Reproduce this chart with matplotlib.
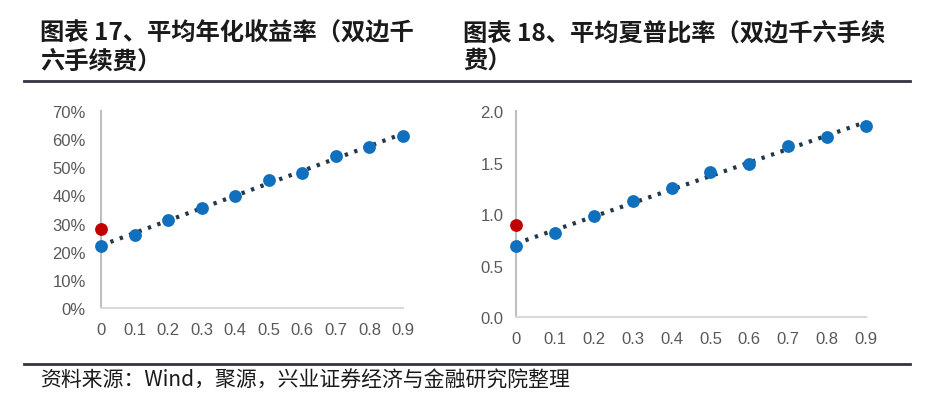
import matplotlib.pyplot as plt
import numpy as np
from matplotlib.lines import Line2D
from matplotlib.ticker import FuncFormatter

plt.rcParams['font.family'] = ['Liberation Sans', 'DejaVu Sans']

# data
cost = [0, 0.1, 0.2, 0.3, 0.4, 0.5, 0.6, 0.7, 0.8, 0.9]
ret = [0.22, 0.261, 0.314, 0.355, 0.398, 0.455, 0.481, 0.541, 0.573, 0.612]
ret_red = 0.279
sharpe = [0.69, 0.816, 0.984, 1.126, 1.255, 1.41, 1.487, 1.661, 1.748, 1.855]
sharpe_red = 0.897

title1 = ["图表 17、平均年化收益率（双边千", "六手续费）"]
title2 = ["图表 18、平均夏普比率（双边千六手续", "费）"]
source = "资料来源：Wind，聚源，兴业证券经济与金融研究院整理"

blue = "#1070BE"
red = "#C00000"
trend = "#23394A"
grey = "#595959"
cjk = ['Noto Sans CJK SC', 'DejaVu Sans']

fig = plt.figure(figsize=(9.3, 4.06), dpi=100)


def panel(rect, y, yred, ylim, yticks, fmt, xpad, ypad):
    ax = fig.add_axes(rect)
    x = np.array(cost)
    k, b = np.polyfit(x, y, 1)
    ax.plot([0, 0.9], [b, b + k * 0.9], linestyle=(0, (0.8, 1.6)), color=trend,
            lw=3, zorder=2, clip_on=False)
    ax.scatter(x, y, s=85, color=blue, zorder=3, clip_on=False, linewidths=0)
    ax.scatter([0], [yred], s=85, color=red, zorder=3, clip_on=False, linewidths=0)
    ax.set_xlim(0, 0.9)
    ax.set_ylim(*ylim)
    ax.set_yticks(yticks)
    ax.set_xticks(cost)
    ax.set_xticklabels(["0"] + [str(c) for c in cost[1:]])
    ax.yaxis.set_major_formatter(FuncFormatter(fmt))
    for s in ["top", "right"]:
        ax.spines[s].set_visible(False)
    ax.spines["left"].set_color("#BFBFBF")
    ax.spines["bottom"].set_color("#D9D9D9")
    ax.spines["left"].set_linewidth(1.5)
    ax.spines["bottom"].set_linewidth(1.5)
    ax.tick_params(length=0, labelsize=12, labelcolor=grey)
    ax.tick_params(axis="x", pad=xpad)
    ax.tick_params(axis="y", pad=ypad)
    return ax


panel([0.1086, 0.2389, 0.3247, 0.4852], ret, ret_red, (0, 0.7),
      np.arange(0, 0.71, 0.1), lambda v, p: f"{v*100:.0f}%", 10, 11)
panel([0.5548, 0.2167, 0.3763, 0.5074], sharpe, sharpe_red, (0, 2.0),
      [0, 0.5, 1.0, 1.5, 2.0], lambda v, p: f"{v:.1f}", 10, 9)

tsize = 17.5
for x0, lines in [(40, title1), (463, title2)]:
    for yy, t in zip([33, 62], lines):
        fig.text(x0 / 930, 1 - yy / 406, t, family=cjk, fontsize=tsize,
                 weight="bold", color="#1a1a1a", va="center")
fig.text(40 / 930, 1 - 381 / 406, source, family=cjk, fontsize=15,
         color="#1a1a1a", va="center")

fig.add_artist(Line2D([24 / 930, 910 / 930], [1 - 82 / 406] * 2,
                      color="#333344", lw=2))
fig.add_artist(Line2D([24 / 930, 910 / 930], [1 - 365 / 406] * 2,
                      color="#333344", lw=2))

fig.savefig("out.png", dpi=100)
